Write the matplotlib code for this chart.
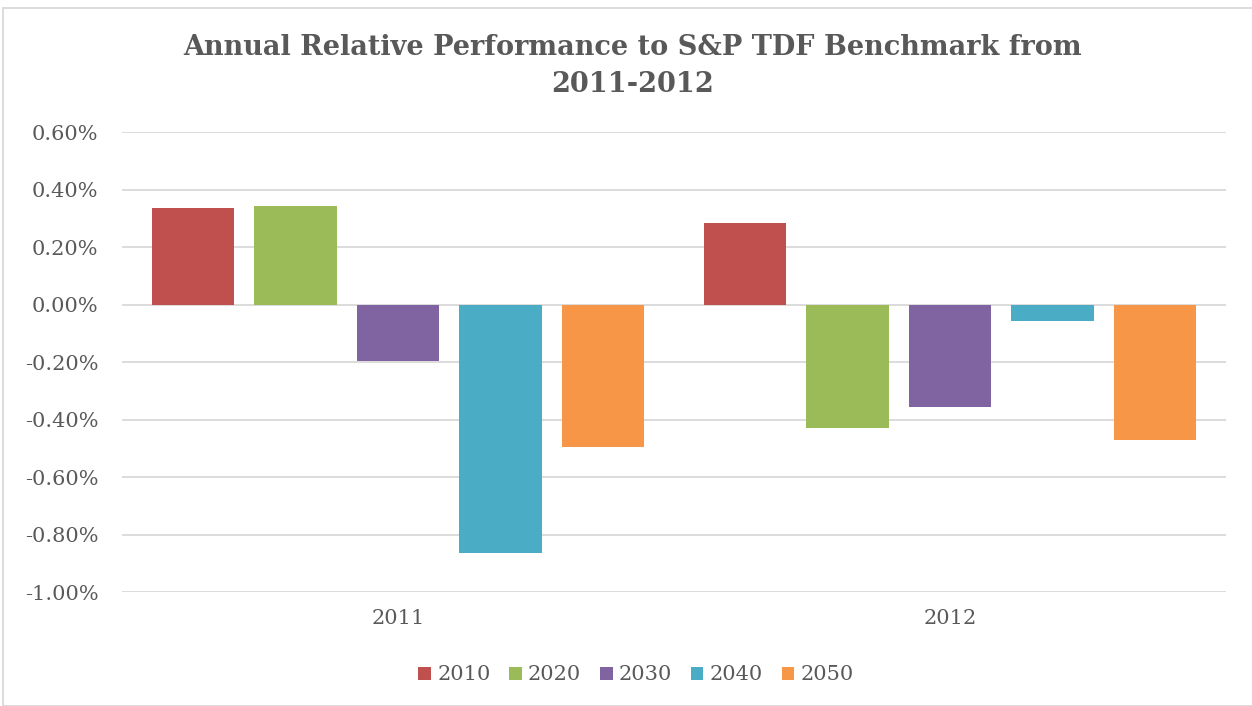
import matplotlib
matplotlib.use("Agg")
import numpy as np
from matplotlib import pyplot as plt
from matplotlib.patches import Rectangle
from matplotlib.ticker import FuncFormatter

# relative performance (%) by target-date fund, per year
years = ['2011', '2012']
funds = ['2010', '2020', '2030', '2040', '2050']
perf_2010 = [0.337, 0.282]
perf_2020 = [0.341, -0.428]
perf_2030 = [-0.195, -0.355]
perf_2040 = [-0.863, -0.059]
perf_2050 = [-0.497, -0.473]
colors = ['#C0504D', '#9BBB59', '#8064A2', '#4BACC6', '#F79646']

series = [perf_2010, perf_2020, perf_2030, perf_2040, perf_2050]
grey = '#595959'
plt.rcParams['font.family'] = ['DejaVu Serif']

fig = plt.figure(figsize=(12.52, 7.06), dpi=100)
ax = fig.add_axes([122 / 1252, 1 - 592 / 706, 1104 / 1252, 460 / 706])

x = np.arange(len(years))
pitch = 0.1857
width = 0.150
for i, (name, vals) in enumerate(zip(funds, series)):
    ax.bar(x + (i - 2) * pitch, vals, width=width, color=colors[i], label=name, zorder=3)

ax.set_xlim(-0.5, 1.5)
ax.set_ylim(-1.0, 0.6)
ax.set_yticks(np.arange(-1.0, 0.61, 0.2))
ax.yaxis.set_major_formatter(FuncFormatter(lambda v, p: '%.2f%%' % (round(v, 2) + 0.0)))
ax.set_xticks(x)
ax.set_xticklabels(years)
ax.grid(axis='y', color='#D9D9D9', linewidth=1.3, zorder=0)
for s in ax.spines.values():
    s.set_visible(False)
ax.tick_params(length=0, colors=grey, labelsize=15)
ax.tick_params(axis='y', pad=17)
ax.tick_params(axis='x', pad=12)

fig.text(0.505, 1 - 66 / 706, 'Annual Relative Performance to S&P TDF Benchmark from\n2011-2012',
         ha='center', va='center', fontsize=19.5, fontweight='bold', color=grey, linespacing=1.45)

leg = fig.legend(loc='center', bbox_to_anchor=(0.508, 1 - 675 / 706), ncol=5, frameon=False,
                 fontsize=15, handlelength=0.6, handleheight=0.6, handletextpad=0.3, columnspacing=0.9)
for t in leg.get_texts():
    t.set_color(grey)

fig.patches.append(Rectangle((3 / 1252, 0), 1.2, 1 - 8 / 706, transform=fig.transFigure,
                             fill=False, edgecolor='#D9D9D9', linewidth=1.3))

fig.savefig('out.png', dpi=100)
